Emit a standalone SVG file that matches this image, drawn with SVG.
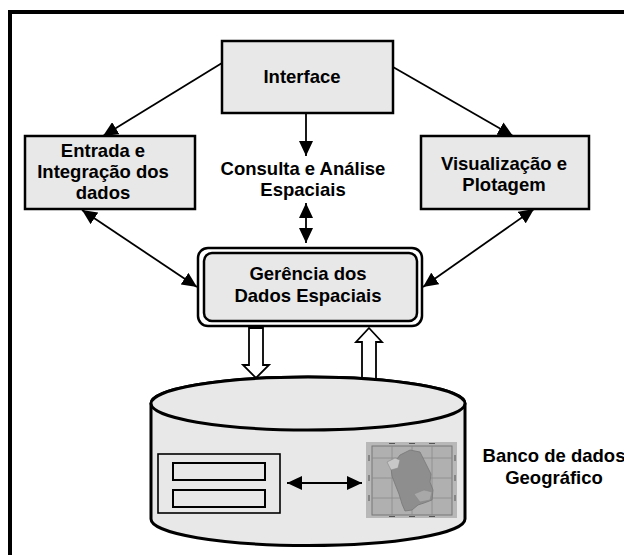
<svg xmlns="http://www.w3.org/2000/svg" width="624" height="555" viewBox="0 0 624 555">
<style>
.box{fill:#e8e8e8;stroke:#000;stroke-width:2.5}
.t{font-family:"Liberation Sans",Arial,sans-serif;font-weight:bold;font-size:18.5px;fill:#000;text-anchor:middle}
.ln{stroke:#000;stroke-width:1.8;fill:none}
.hollow{fill:#fff;stroke:#000;stroke-width:1.8}
</style>
<defs>
<marker id="ah" viewBox="0 0 15 14" refX="15" refY="7" markerWidth="15" markerHeight="14" markerUnits="userSpaceOnUse" orient="auto-start-reverse">
<path d="M0,0 L15,7 L0,14 z" fill="#000"/>
</marker>
</defs>
<rect x="0" y="0" width="624" height="555" fill="#fff"/>
<path d="M10,560 L10,12 L630,12" fill="none" stroke="#000" stroke-width="4"/>

<g id="interface">
<rect class="box" x="222" y="41" width="171" height="72"/>
<text class="t" x="302" y="83">Interface</text>
</g>
<g id="entrada">
<rect class="box" x="25" y="136" width="170" height="73"/>
<text class="t" x="103" y="157">Entrada e</text>
<text class="t" x="103" y="178">Integração dos</text>
<text class="t" x="103" y="199">dados</text>
</g>
<g id="consulta">
<text class="t" x="303" y="175">Consulta e Análise</text>
<text class="t" x="303" y="196">Espaciais</text>
</g>
<g id="visualizacao">
<rect class="box" x="421" y="136" width="168" height="73"/>
<text class="t" x="504" y="170">Visualização e</text>
<text class="t" x="504" y="191">Plotagem</text>
</g>
<g id="gerencia">
<rect x="198" y="248" width="224" height="78" rx="10" fill="#fff" stroke="#000" stroke-width="2.5"/>
<rect class="box" x="204" y="253" width="213" height="68" rx="8"/>
<text class="t" x="308" y="280">Gerência dos</text>
<text class="t" x="308" y="302">Dados Espaciais</text>
</g>

<g id="connectors">
<line class="ln" x1="222" y1="63" x2="103" y2="136" marker-end="url(#ah)"/>
<line class="ln" x1="393" y1="67" x2="513" y2="136" marker-end="url(#ah)"/>
<line class="ln" x1="306" y1="114" x2="306" y2="156" marker-end="url(#ah)"/>
<line class="ln" x1="306" y1="203" x2="306" y2="243" marker-start="url(#ah)" marker-end="url(#ah)"/>
<line class="ln" x1="82" y1="210" x2="197" y2="287" marker-start="url(#ah)" marker-end="url(#ah)"/>
<line class="ln" x1="534" y1="209" x2="423" y2="287" marker-start="url(#ah)" marker-end="url(#ah)"/>
<polygon class="hollow" points="249,328 263,328 263,365 269,365 256,378 243,365 249,365"/>
<polygon class="hollow" points="369,328 382,342 376,342 376,382 362,382 362,342 356,342"/>
</g>

<g id="banco">
<path d="M151,403.5 L151,519 A157,26.5 0 0 0 465,519 L465,403.5 A157,26.5 0 0 0 151,403.5 z" fill="#e8e8e8" stroke="#000" stroke-width="3"/>
<ellipse cx="308" cy="403.5" rx="157" ry="26.5" fill="#e8e8e8" stroke="#000" stroke-width="3"/>
<rect x="158" y="454" width="122" height="59" fill="#e8e8e8" stroke="#000" stroke-width="1.6"/>
<rect x="173" y="463" width="92" height="17" fill="#e8e8e8" stroke="#000" stroke-width="2"/>
<rect x="173" y="490" width="92" height="17" fill="#e8e8e8" stroke="#000" stroke-width="2"/>
<line class="ln" x1="287" y1="483" x2="362" y2="483" stroke-width="2.5" marker-start="url(#ah)" marker-end="url(#ah)"/>
<g id="mapa">
<rect x="366" y="442" width="91" height="76" fill="#b8b8b8"/>
<rect x="372" y="446" width="80" height="69" fill="#b0b0b0" stroke="#777" stroke-width="1"/>
<path d="M392,446 V515 M412,446 V515 M432,446 V515 M372,458 H452 M372,478 H452 M372,498 H452" stroke="#8c8c8c" stroke-width="0.8" fill="none"/>
<path d="M400,455 L410,450 L420,452 L424,460 L428,468 L431,474 L430,482 L433,490 L432,500 L424,503 L418,505 L412,510 L405,511 L402,504 L399,494 L395,484 L392,476 L391,468 L395,462 Z" fill="#8e8e8e" stroke="#777" stroke-width="0.8"/>
<path d="M387,462 L395,458 L400,460 L398,468 L391,470 Z" fill="#c8c8c8" stroke="#888" stroke-width="0.6"/>
<path d="M414,494 L424,490 L432,492 L430,500 L420,502 Z" fill="#a8a8a8" stroke="#888" stroke-width="0.6"/>
<path d="M389,443.5 h6 M409,443.5 h6 M429,443.5 h6 M389,516.5 h6 M409,516.5 h6 M429,516.5 h6" stroke="#555" stroke-width="1"/>
<path d="M369,455 v6 M369,475 v6 M369,495 v6 M455,455 v6 M455,475 v6 M455,495 v6" stroke="#555" stroke-width="1"/>
</g>
</g>
<g id="label-banco">
<text class="t" x="554" y="462">Banco de dados</text>
<text class="t" x="554" y="484">Geográfico</text>
</g>
</svg>
